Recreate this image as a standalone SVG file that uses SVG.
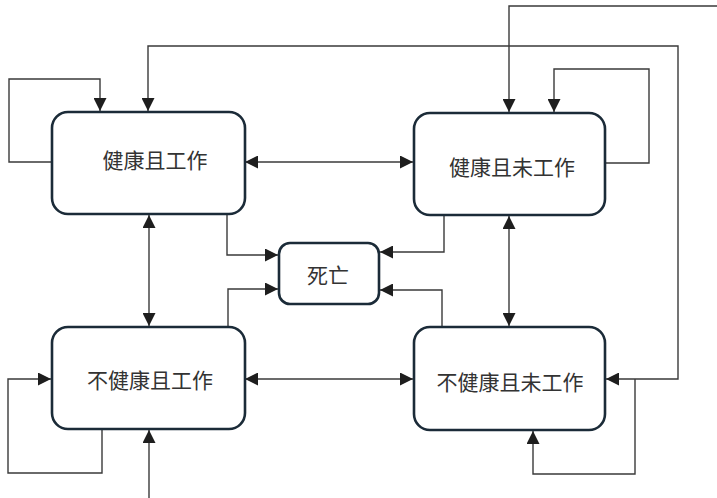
<svg xmlns="http://www.w3.org/2000/svg" width="717" height="498" viewBox="0 0 717 498">
<defs>
<marker id="arr" markerUnits="userSpaceOnUse" markerWidth="14" markerHeight="13" refX="13" refY="6.5" orient="auto-start-reverse">
<path d="M0,0 L13,6.5 L0,13 z" fill="#1e1e1e"/>
</marker>
<style>
.box{fill:#fff;stroke:#1b2b38;stroke-width:2.6}
.c{fill:none;stroke:#3a3a3a;stroke-width:1.4}
.t{font-family:"Noto Sans CJK SC","Noto Sans",sans-serif;font-size:21px;fill:#333;text-anchor:middle;dominant-baseline:central}
</style>
</defs>
<rect width="717" height="498" fill="#fff"/>
<g id="connectors">
<path class="c" d="M52,162 H9 V79 H100 V111" marker-end="url(#arr)"/>
<path class="c" d="M605,163 H649 V69 H554 V112" marker-end="url(#arr)"/>
<path class="c" d="M102,429 V473 H8 V379 H51" marker-end="url(#arr)"/>
<path class="c" d="M635,379 V474 H533 V431" marker-end="url(#arr)"/>
<path class="c" d="M148,111 V46 H678 V379 H606" marker-start="url(#arr)" marker-end="url(#arr)"/>
<path class="c" d="M717,6 H509 V112" marker-end="url(#arr)"/>
<path class="c" d="M149,498 V430" marker-end="url(#arr)"/>
<path class="c" d="M245,162 H413" marker-start="url(#arr)" marker-end="url(#arr)"/>
<path class="c" d="M245,379 H413" marker-start="url(#arr)" marker-end="url(#arr)"/>
<path class="c" d="M149,215 V326" marker-start="url(#arr)" marker-end="url(#arr)"/>
<path class="c" d="M509,216 V326" marker-start="url(#arr)" marker-end="url(#arr)"/>
<path class="c" d="M227,214 V255 H278" marker-end="url(#arr)"/>
<path class="c" d="M228,327 V289 H278" marker-end="url(#arr)"/>
<path class="c" d="M444,215 V252 H380" marker-end="url(#arr)"/>
<path class="c" d="M442,327 V290 H380" marker-end="url(#arr)"/>
</g>
<g id="n1">
<rect class="box" x="52" y="112" width="193" height="102" rx="16"/>
<text class="t" x="155" y="159">健康且工作</text>
</g>
<g id="n2">
<rect class="box" x="414" y="113" width="191" height="102" rx="16"/>
<text class="t" x="512" y="166">健康且未工作</text>
</g>
<g id="n3">
<rect class="box" x="52" y="327" width="193" height="102" rx="16"/>
<text class="t" x="150" y="379">不健康且工作</text>
</g>
<g id="n4">
<rect class="box" x="414" y="327" width="191" height="103" rx="16"/>
<text class="t" x="510" y="381">不健康且未工作</text>
</g>
<g id="death">
<rect class="box" x="279" y="243" width="100" height="61" rx="11"/>
<text class="t" x="328" y="274">死亡</text>
</g>
</svg>
